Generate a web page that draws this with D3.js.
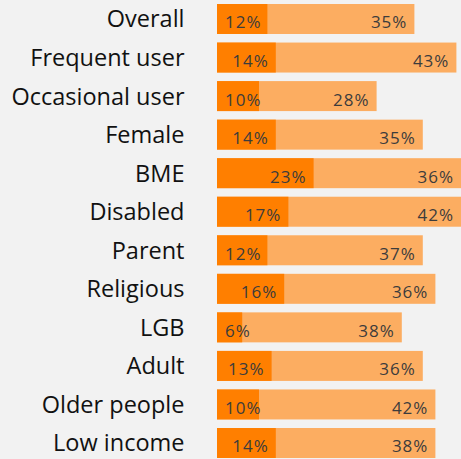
<!DOCTYPE html>
<html>
<head>
<meta charset="utf-8">
<script src="https://cdn.jsdelivr.net/npm/d3@7"></script>
<style>
  html, body { margin: 0; padding: 0; background: #f2f2f2; }
  svg { display: block; }
</style>
</head>
<body>
<svg id="chart" width="461" height="459"></svg>
<script>
const categories = ["Overall", "Frequent user", "Occasional user", "Female", "BME", "Disabled",
                    "Parent", "Religious", "LGB", "Adult", "Older people", "Low income"];
const primary   = [12, 14, 10, 14, 23, 17, 12, 16, 6, 13, 10, 14];
const secondary = [35, 43, 28, 35, 36, 42, 37, 36, 38, 36, 42, 38];

const W = 461, H = 459;
const svg = d3.select("#chart");

const y = d3.scaleBand().domain(categories).range([4, 458]).paddingInner(0.222);
const x = d3.scaleLinear().domain([0, 100]).range([217, 637]);

svg.append("rect").attr("width", W).attr("height", H).attr("fill", "#f2f2f2");

const rows = svg.append("g").selectAll("g")
  .data(categories.map((c, i) => ({ c, a: primary[i], b: secondary[i] })))
  .join("g");

// category labels
rows.append("text")
  .attr("x", 184.5)
  .attr("y", d => y(d.c) + y.bandwidth() / 2)
  .attr("dy", "0.36em")
  .attr("text-anchor", "end")
  .attr("font-family", "'Open Sans', sans-serif")
  .attr("font-size", 23.5)
  .attr("fill", "#111")
  .text(d => d.c);

// stacked bars: second segment underneath, first on top
rows.append("rect")
  .attr("x", x(0))
  .attr("y", d => y(d.c))
  .attr("width", d => Math.min(x(d.a + d.b), W) - x(0))
  .attr("height", y.bandwidth())
  .attr("fill", "#fcad61");

rows.append("rect")
  .attr("x", x(0))
  .attr("y", d => y(d.c))
  .attr("width", d => x(d.a) - x(0))
  .attr("height", y.bandwidth())
  .attr("fill", "#ff7f00");

const labelFont = sel => sel
  .attr("font-family", "'Open Sans', sans-serif")
  .attr("font-size", 17)
  .attr("letter-spacing", 1)
  .attr("fill", "#3c3c3c")
  .attr("text-anchor", "end")
  .attr("dy", "0.35em");

// value of the first segment, kept inside the bar's left padding
rows.append("text")
  .call(labelFont)
  .attr("y", d => y(d.c) + y.bandwidth() / 2 + 3.5)
  .text(d => d.a + "%")
  .attr("x", function (d) {
    const w = this.getComputedTextLength();
    return Math.max(x(0) + 8 + w, x(d.a) - 7);
  });

// value of the second segment at the end of the stack
rows.append("text")
  .call(labelFont)
  .attr("y", d => y(d.c) + y.bandwidth() / 2 + 3.5)
  .attr("x", d => Math.min(x(d.a + d.b), W) - 7)
  .text(d => d.b + "%");
</script>
</body>
</html>
